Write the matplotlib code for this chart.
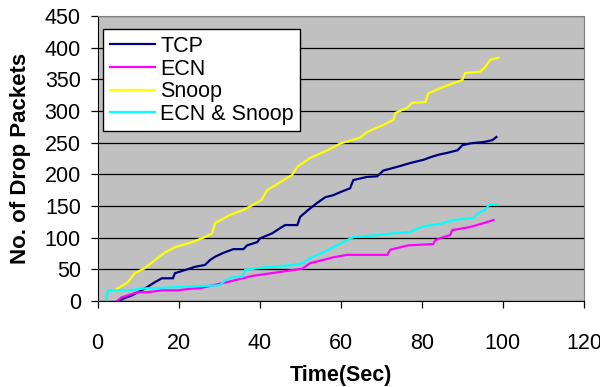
import numpy as np
import matplotlib; matplotlib.use('Agg'); import matplotlib.pyplot as plt

plt.rcParams.update({'font.family':'Liberation Sans','font.size':15.5})

# ---- data (time in s, cumulative drops) ----
tcp_t=[5,6.8,8.5,11.7,14.2,15.9,18.6,19.1,21.6,24,26.5,27.8,29,31,33.5,36,36.9,39.4,40.1,43.1,45,46.3,49.3,50,52,
       54.2,56.2,58.1,59.9,62.3,63.1,66.5,69,70.5,74,77.2,80.4,82.1,84.1,86.3,88.8,90,92,95.2,97.4,98.4]
tcp_y=[0,5,9,20,30,36,36,44,49,54,57,65,70,76,82,82,88,93,99,107,115,120,120,133,144,
       155,164,167,172,178,191,196,197,206,212,218,223,227,231,234,238,246,249,251,254,259]
ecn_t=[4.8,6,7.5,9.8,12.5,15.9,19.9,22.3,25.8,27.8,32,35.2,38.4,41.8,45,49.3,50.5,52.5,55.7,58.1,61.6,71.5,72.2,
       76.7,82.8,83.3,85.3,87,87.5,92,95.2,97.7]
ecn_y=[0,6,9,14,14,17,17,19,21,24,30,35,40,43,46,50,51,60,65,69,73,73,81,
       88,90,96,101,104,112,117,123,128]
snoop_t=[4.5,7.5,9.2,11.7,14.2,16.7,19.1,23.3,26.5,28.3,29,32.7,36,38.4,40.5,41.8,48,49.3,52.5,56.7,60,64.8,66.5,
         70.5,73,73.5,76.4,77.6,80.9,81.6,85.3,90,90.7,94.4,95.7,96.9,98.9]
snoop_y=[18,30,44,52,65,77,85,93,101,107,123,136,144,152,160,175,199,212,226,238,249,258,267,
         278,286,297,305,313,314,328,338,349,360,362,370,381,384]
es_t=[2.1,2.6,7.5,11.7,19.9,26.5,30.2,31.5,33.5,35.7,36.4,39.4,43.3,48.3,50.7,52.5,55.7,58.1,60.6,63.1,69,73,77.2,
      78,80.5,84.6,87.8,92.7,93.9,95.7,96.5,98.6]
es_y=[0,17,17,20,22,24,25,33,38,38,49,52,54,57,60,68,77,85,93,101,104,107,109,
      112,118,122,128,131,139,144,152,153]

series=[('TCP',tcp_t,tcp_y,'#000080'),('ECN',ecn_t,ecn_y,'#FF00FF'),
        ('Snoop',snoop_t,snoop_y,'#FFFF00'),('ECN & Snoop',es_t,es_y,'#00FFFF')]

fig=plt.figure(figsize=(6,3.87),dpi=100)
ax=fig.add_axes([0.1625,0.222,0.8108,0.7367])
ax.set_facecolor('#C0C0C0')
for nm,t,y,c in series:
    ax.plot(t,y,color=c,lw=1.6,label=nm,solid_joinstyle='miter')
ax.set_xlim(0,120); ax.set_ylim(0,450)
ax.set_xticks(np.arange(0,121,20)); ax.set_yticks(np.arange(0,451,50))
ax.yaxis.grid(True,color='black',lw=0.9); ax.set_axisbelow(True)
for s in ['top','right']: ax.spines[s].set_color('#808080')
for s in ['left','bottom']: ax.spines[s].set_color('black')
ax.tick_params(axis='y',direction='out',length=5,pad=7,width=0.9)
ax.tick_params(axis='x',direction='out',length=5,pad=18,width=0.9)
ax.set_xlabel('Time(Sec)',fontweight='bold',fontsize=15.5,labelpad=8)
ax.set_ylabel('No. of Drop Packets',fontweight='bold',fontsize=16,labelpad=10)
leg=ax.legend(loc='upper left',bbox_to_anchor=(0.012,0.953),fancybox=False,edgecolor='black',framealpha=1,
              handlelength=2.1,handletextpad=0.25,labelspacing=0.08,borderpad=0.3,borderaxespad=0,fontsize=15.5)
leg.get_frame().set_linewidth(1)
fig.savefig('out.png',dpi=100)
